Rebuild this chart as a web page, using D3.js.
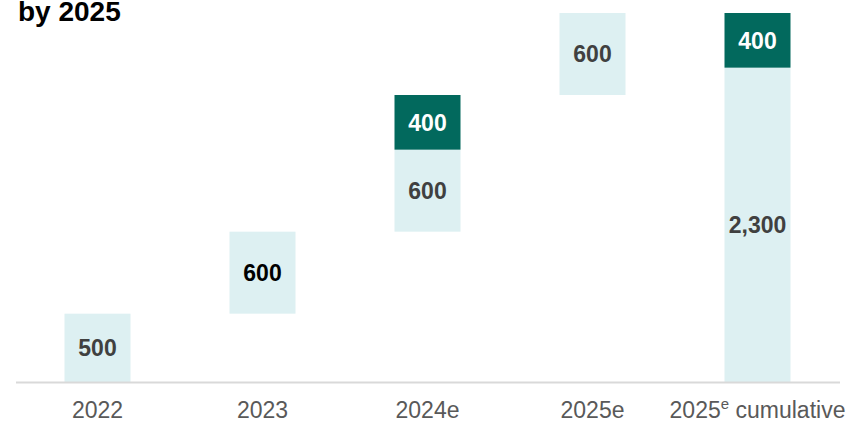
<!DOCTYPE html>
<html>
<head>
<meta charset="utf-8">
<script src="https://cdn.jsdelivr.net/npm/d3@7"></script>
<style>
  body { margin: 0; background: #fff; }
  svg { display: block; font-family: "Liberation Sans", Arial, sans-serif; }
</style>
</head>
<body>
<div id="chart"></div>
<script>
// Données
const categories = ["2022", "2023", "2024e", "2025e", "2025e cumulative"];
const lightValues = [500, 600, 600, 600, 2300];
const darkValues = [0, 0, 400, 0, 400];
const lightStarts = [0, 500, 1100, 2100, 0];
const labelColors = ["#404040", "#000000", "#404040", "#404040", "#404040"];

const width = 847, height = 422;

const svg = d3.select("#chart").append("svg")
  .attr("width", width)
  .attr("height", height);

// Titre (coupé en haut)
svg.append("text")
  .attr("x", 18).attr("y", 21)
  .attr("font-size", 28).attr("font-weight", "bold")
  .attr("fill", "#000")
  .text("by 2025");

const x = d3.scaleBand()
  .domain(categories)
  .range([15, 840])
  .paddingInner(0.6)
  .paddingOuter(0.3);

const y = d3.scaleLinear()
  .domain([0, 2700])
  .range([382, 13]);

const data = categories.map((c, i) => ({
  cat: c,
  lightStart: lightStarts[i],
  light: lightValues[i],
  dark: darkValues[i],
  color: labelColors[i]
}));

// Barres claires
svg.selectAll("rect.light")
  .data(data)
  .enter().append("rect")
  .attr("class", "light")
  .attr("x", d => x(d.cat))
  .attr("width", x.bandwidth())
  .attr("y", d => y(d.lightStart + d.light))
  .attr("height", d => y(d.lightStart) - y(d.lightStart + d.light))
  .attr("fill", "#ddf0f2");

// Barres foncées
svg.selectAll("rect.dark")
  .data(data.filter(d => d.dark > 0))
  .enter().append("rect")
  .attr("class", "dark")
  .attr("x", d => x(d.cat))
  .attr("width", x.bandwidth())
  .attr("y", d => y(d.lightStart + d.light + d.dark))
  .attr("height", d => y(d.lightStart + d.light) - y(d.lightStart + d.light + d.dark))
  .attr("fill", "#02695d");

// Étiquettes des barres claires
svg.selectAll("text.lightLabel")
  .data(data)
  .enter().append("text")
  .attr("x", d => x(d.cat) + x.bandwidth() / 2)
  .attr("y", d => y(d.lightStart + d.light / 2))
  .attr("dy", "0.36em")
  .attr("text-anchor", "middle")
  .attr("font-size", 23).attr("font-weight", "bold")
  .attr("fill", d => d.color)
  .text(d => d3.format(",")(d.light));

// Étiquettes des barres foncées
svg.selectAll("text.darkLabel")
  .data(data.filter(d => d.dark > 0))
  .enter().append("text")
  .attr("x", d => x(d.cat) + x.bandwidth() / 2)
  .attr("y", d => y(d.lightStart + d.light + d.dark / 2))
  .attr("dy", "0.36em")
  .attr("text-anchor", "middle")
  .attr("font-size", 23).attr("font-weight", "bold")
  .attr("fill", "#fff")
  .text(d => d3.format(",")(d.dark));

// Axe
svg.append("line")
  .attr("x1", 16).attr("x2", 840)
  .attr("y1", 382.5).attr("y2", 382.5)
  .attr("stroke", "#d9d9d9").attr("stroke-width", 2);

const labels = svg.selectAll("text.axisLabel")
  .data(categories)
  .enter().append("text")
  .attr("x", d => x(d) + x.bandwidth() / 2)
  .attr("y", 418)
  .attr("text-anchor", "middle")
  .attr("font-size", 23)
  .attr("fill", "#595959");

labels.each(function(d) {
  const t = d3.select(this);
  if (d === "2025e cumulative") {
    t.append("tspan").text("2025");
    t.append("tspan").attr("dy", -9).attr("font-size", 15).text("e");
    t.append("tspan").attr("dy", 9).text(" cumulative");
  } else {
    t.text(d);
  }
});
</script>
</body>
</html>
